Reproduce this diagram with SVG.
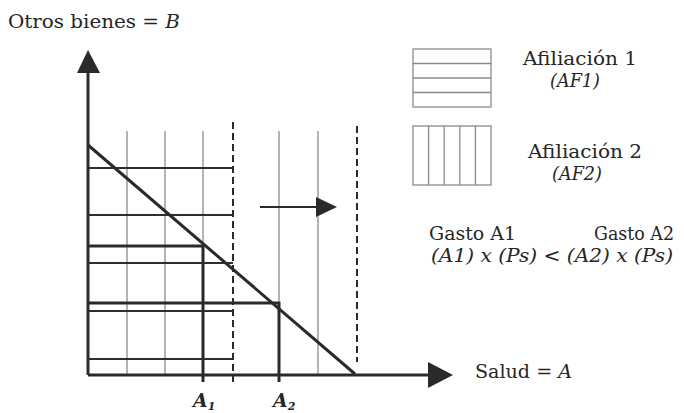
<svg xmlns="http://www.w3.org/2000/svg" width="684" height="413" viewBox="0 0 684 413">
<defs>
<style>
.t{font-family:"DejaVu Serif","Liberation Serif",serif;font-size:19px;fill:#262626}
.s{font-size:18px}
.i{font-style:italic}
.light{stroke:#8a8a8a;stroke-width:1.3;fill:none}
.h{stroke:#2e2e2e;stroke-width:2;fill:none}
.thick{stroke:#2a2a2a;stroke-width:3;fill:none}
.dash{stroke:#2a2a2a;stroke-width:2;stroke-dasharray:7 4;fill:none}
.box{stroke:#8a8a8a;stroke-width:1.3;fill:none}
</style>
</defs>
<rect width="684" height="413" fill="#ffffff"/>
<g id="af2-grid">
<line class="light" x1="127" y1="131" x2="127" y2="375"/>
<line class="light" x1="165" y1="131" x2="165" y2="375"/>
<line class="light" x1="203" y1="131" x2="203" y2="246"/>
<line class="light" x1="279" y1="131" x2="279" y2="303"/>
<line class="light" x1="318" y1="131" x2="318" y2="375"/>
</g>
<g id="af1-grid">
<line class="h" x1="88" y1="168" x2="233" y2="168"/>
<line class="h" x1="88" y1="215" x2="233" y2="215"/>
<line class="h" x1="88" y1="263" x2="233" y2="263"/>
<line class="h" x1="88" y1="311" x2="233" y2="311"/>
<line class="h" x1="88" y1="359" x2="233" y2="359"/>
</g>
<g id="connectors">
<line class="dash" x1="233" y1="122" x2="233" y2="383"/>
<line class="dash" x1="357" y1="126" x2="357" y2="362"/>
<polyline class="thick" points="88,246 203,246 203,382"/>
<polyline class="thick" points="88,303 279,303 279,382"/>
<line class="thick" x1="88" y1="145" x2="355" y2="374"/>
<line class="thick" x1="88" y1="72" x2="88" y2="375"/>
<polygon points="88,50 77,73 100,73" fill="#2a2a2a"/>
<line class="thick" x1="88" y1="375" x2="430" y2="375"/>
<polygon points="453,375 428,362 428,388" fill="#2a2a2a"/>
<line stroke="#2a2a2a" stroke-width="2" x1="260" y1="207" x2="318" y2="207"/>
<polygon points="337,207 316,197 316,217" fill="#2a2a2a"/>
</g>
<g id="legend-af1">
<rect class="box" x="413" y="49" width="78" height="58"/>
<line class="box" x1="413" y1="63.5" x2="491" y2="63.5"/>
<line class="box" x1="413" y1="78" x2="491" y2="78"/>
<line class="box" x1="413" y1="92.5" x2="491" y2="92.5"/>
<text class="t s" x="523" y="65" textLength="114" lengthAdjust="spacingAndGlyphs">Afiliación 1</text>
<text class="t s i" x="575" y="87" text-anchor="middle" textLength="50" lengthAdjust="spacingAndGlyphs">(AF1)</text>
</g>
<g id="legend-af2">
<rect class="box" x="413" y="126" width="78" height="59"/>
<line class="box" x1="428.6" y1="126" x2="428.6" y2="185"/>
<line class="box" x1="444.2" y1="126" x2="444.2" y2="185"/>
<line class="box" x1="459.8" y1="126" x2="459.8" y2="185"/>
<line class="box" x1="475.4" y1="126" x2="475.4" y2="185"/>
<text class="t s" x="528" y="158" textLength="114" lengthAdjust="spacingAndGlyphs">Afiliación 2</text>
<text class="t s i" x="577" y="180" text-anchor="middle" textLength="50" lengthAdjust="spacingAndGlyphs">(AF2)</text>
</g>
<g id="gasto">
<text class="t s" x="429" y="240" textLength="87" lengthAdjust="spacingAndGlyphs">Gasto A1</text>
<text class="t s" x="594" y="240" textLength="80" lengthAdjust="spacingAndGlyphs">Gasto A2</text>
<text class="t s i" x="431" y="262" textLength="242" lengthAdjust="spacingAndGlyphs">(A1) x (Ps) &lt; (A2) x (Ps)</text>
</g>
<g id="labels">
<text class="t" x="8" y="28" textLength="172" lengthAdjust="spacingAndGlyphs">Otros bienes = <tspan class="i">B</tspan></text>
<text class="t" x="475" y="378" textLength="97" lengthAdjust="spacingAndGlyphs">Salud = <tspan class="i">A</tspan></text>
<text class="t i" x="193" y="407" font-weight="bold">A<tspan font-size="11" dy="3">1</tspan></text>
<text class="t i" x="273" y="407" font-weight="bold">A<tspan font-size="11" dy="3">2</tspan></text>
</g>
</svg>
